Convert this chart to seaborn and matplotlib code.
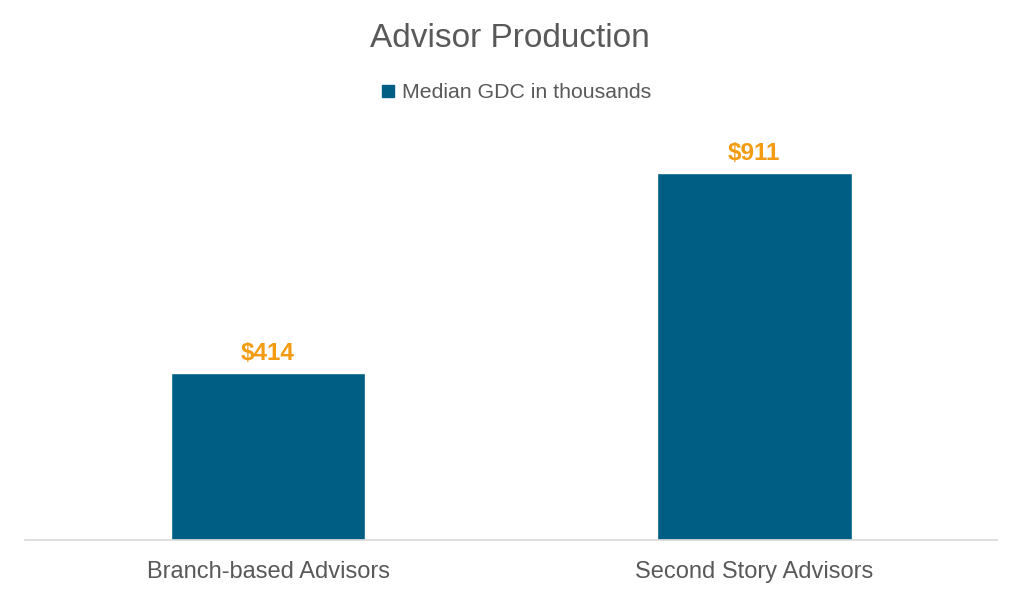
import matplotlib
matplotlib.use("Agg")
import matplotlib.pyplot as plt
import seaborn as sns
import pandas as pd
from matplotlib.lines import Line2D

# === DATA ===
CATEGORIES = ["Branch-based Advisors", "Second Story Advisors"]
MEDIAN_GDC = [414, 911]
LABELS = ["$414", "$911"]
SERIES_NAME = "Median GDC in thousands"

BAR_COLOR = "#005E85"
LABEL_COLOR = "#F39C12"
TEXT_COLOR = "#595959"

sns.set_theme(style="white")
plt.rcParams['font.family'] = ['Liberation Sans', 'DejaVu Sans']

df = pd.DataFrame({"group": CATEGORIES, "gdc": MEDIAN_GDC})

fig = plt.figure(figsize=(10.24, 5.97), dpi=100)
ax = fig.add_axes([0.0244, 0.0955, 0.9496, 0.675])

sns.barplot(data=df, x="group", y="gdc", color=BAR_COLOR, width=0.4,
            saturation=1, ax=ax)

ax.set_xlim(-0.5, 1.5)
ax.set_ylim(0, 1000)
ax.set_xlabel("")
ax.set_ylabel("")
ax.set_yticks([])
for s in ["top", "right", "left"]:
    ax.spines[s].set_visible(False)
ax.spines["bottom"].set_color("#D9D9D9")
ax.spines["bottom"].set_linewidth(1.2)
ax.tick_params(axis="x", length=0, pad=15, labelsize=17, labelcolor=TEXT_COLOR)

for i, (v, lab) in enumerate(zip(MEDIAN_GDC, LABELS)):
    ax.text(i, v + 20, lab, ha="center", va="bottom", fontsize=17.5,
            fontweight="bold", color=LABEL_COLOR)

fig.text(0.498, 0.935, "Advisor Production", ha="center", va="center",
         fontsize=24, color=TEXT_COLOR)

handle = Line2D([], [], marker="s", linestyle="none", markersize=8,
                color=BAR_COLOR)
fig.legend([handle], [SERIES_NAME], loc="center", bbox_to_anchor=(0.503, 0.845),
           frameon=False, fontsize=15.3, labelcolor=TEXT_COLOR,
           handlelength=0.8, handletextpad=0.25, borderpad=0)

fig.savefig("out.png", dpi=100)
